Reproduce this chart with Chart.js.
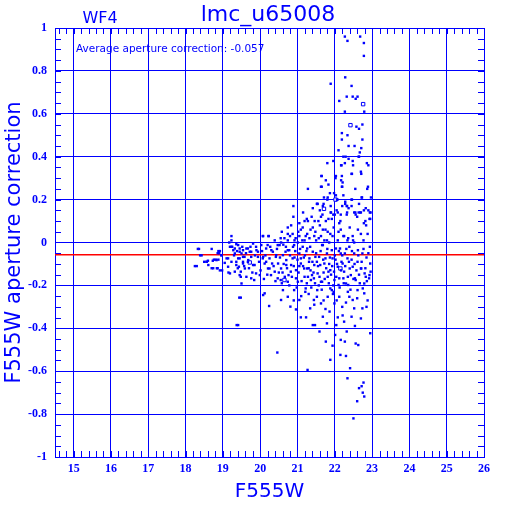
<!DOCTYPE html>
<html>
<head>
<meta charset="utf-8">
<script src="https://cdn.jsdelivr.net/npm/chart.js@4.4.1/dist/chart.umd.min.js"></script>
<style>
  html, body { margin: 0; padding: 0; background: #fff; }
  #wrap { width: 512px; height: 512px; }
</style>
</head>
<body>
<div id="wrap"><canvas id="grafica" width="512" height="512"></canvas></div>
<script>
// datos: [magnitud F555W, correccion de apertura]
const colaDebil = [
  [22.27,0.96],[22.34,0.94],[22.68,0.96],[22.78,0.93],[22.78,0.87],
  [22.28,0.77],[21.89,0.74],[22.45,0.73],[22.32,0.68],[22.48,0.68],[22.61,0.68],[22.56,0.67],
  [22.12,0.66],[22.27,0.61],[22.79,0.61],[22.58,0.54],[22.65,0.53],[22.74,0.55],[22.19,0.51],
  [22.19,0.48],[22.34,0.50],[22.74,0.48],[22.37,0.45],[22.10,0.43],[22.53,0.45],[22.71,0.44],
  [22.67,0.42],[22.64,0.40],[22.23,0.40],[22.29,0.40],[22.37,0.39],[21.96,0.38],[22.17,0.36],
  [22.65,0.40],[22.48,0.38],[21.80,0.37],[22.86,0.37],[22.90,0.36],[22.27,0.37],[22.18,0.36],[22.49,0.36]
];

const dispersionSuperior = [
  [21.64,0.31],[22.02,0.30],[21.76,0.29],[22.17,0.29],[22.21,0.28],[22.45,0.32],[22.70,0.33],
  [21.83,0.27],[21.28,0.25],[21.63,0.26],[22.19,0.26],[22.55,0.25],[22.87,0.25],[21.87,0.23],
  [21.71,0.21],[21.80,0.20],[22.06,0.20],[22.23,0.22],[22.72,0.21],[22.97,0.21],[22.28,0.19],
  [22.45,0.20],[21.54,0.18],[21.41,0.16],[22.32,0.17],[22.37,0.16],[22.64,0.14],[22.78,0.15],
  [22.94,0.14],[21.67,0.13],[21.89,0.14],[22.00,0.13],[22.32,0.13],[22.52,0.14],[22.60,0.12],
  [20.89,0.17],[20.89,0.12],[21.25,0.11],[21.83,0.11],[22.93,0.11],[21.65,0.31],[22.03,0.31],
  [22.19,0.31],[22.46,0.32],[22.71,0.32],[21.65,0.26],[22.20,0.26],[22.89,0.26],[21.81,0.21],
  [21.98,0.23],[22.03,0.22],[22.73,0.21],[21.53,0.18],[21.70,0.18],[21.89,0.17],[22.05,0.15],
  [22.20,0.17],[22.33,0.17],[22.45,0.17],[21.96,0.13],[22.16,0.13],[22.33,0.14],[22.55,0.14],
  [22.68,0.14],[22.90,0.15],[21.63,0.12],[21.28,0.10],[21.46,0.10],[21.76,0.10],[21.19,0.10],
  [22.82,0.10],[22.95,0.11],[21.52,0.18],[21.68,0.17],[22.07,0.20],[22.28,0.18],[22.46,0.20],
  [22.65,0.18],[22.83,0.16],[22.96,0.14],[21.90,0.14],[22.08,0.14],[22.56,0.13],[22.70,0.14],
  [21.56,0.10],[21.92,0.11],[22.15,0.10],[22.78,0.09],[20.83,0.08],[21.14,0.07],[21.41,0.07],
  [21.68,0.06],[21.81,0.05],[21.97,0.07],[22.16,0.06],[20.58,0.05],[20.74,0.04],[21.05,0.03],
  [21.26,0.04],[21.45,0.03],[21.63,0.03],[21.94,0.03],[22.25,0.03],[22.48,0.03],[22.70,0.04],
  [22.88,0.04],[20.08,0.03],[20.23,0.03],[20.39,0.01],[20.56,0.00],[20.74,0.01],[20.92,0.01],
  [21.01,0.00],[21.19,0.01],[21.32,0.02],[21.50,0.01],[21.72,0.01],[21.85,0.00],[22.08,0.01],
  [22.34,0.01],[22.52,0.00],[22.77,0.01],[20.65,0.02],[20.74,0.07],[20.87,0.04],[21.09,0.06],
  [21.13,0.01],[21.22,0.03],[21.48,0.05],[21.57,0.02],[21.75,0.06],[21.79,0.01],[22.10,0.05],
  [22.23,0.03],[22.36,0.02],[22.49,0.01],[19.23,0.01],[20.07,0.03],[20.22,0.03],[19.23,0.03],
  [19.17,0.00]
];

const bandaCentral = [
  [18.33,-0.03],[18.39,-0.06],[18.25,-0.11],[18.50,-0.09],[18.70,-0.03],[18.73,-0.085],
  [18.81,-0.08],[18.70,-0.12],[18.84,-0.12],[18.92,-0.13],[18.86,-0.05],[18.92,-0.04],
  [19.25,-0.02],[19.15,-0.14],[18.36,-0.03],[18.43,-0.06],[18.30,-0.11],[18.56,-0.09],
  [18.60,-0.085],[18.76,-0.08],[18.74,-0.12],[18.88,-0.08],[18.86,-0.12],[18.90,-0.05],
  [18.96,-0.06],[18.98,-0.13],[19.05,-0.095],[19.14,-0.074],[19.19,-0.144],[19.23,-0.02],
  [19.28,-0.036],[19.32,-0.051],[19.36,-0.09],[19.41,-0.074],[19.43,-0.113],[19.36,-0.008],
  [19.45,-0.028],[19.50,-0.051],[19.54,-0.067],[19.54,-0.098],[19.48,-0.136],[19.48,-0.16],
  [19.50,-0.191],[19.59,-0.121],[19.63,-0.028],[19.68,-0.082],[19.72,-0.043],[19.76,-0.067],
  [19.81,-0.005],[19.85,-0.105],[19.84,-0.175],[19.90,-0.036],[19.94,-0.067],[19.99,-0.152],
  [20.03,-0.012],[20.08,-0.067],[20.12,-0.098],[20.16,-0.028],[20.21,-0.121],[20.25,-0.074],
  [20.30,-0.036],[20.32,-0.098],[20.39,-0.136],[20.43,-0.059],[20.48,-0.098],[20.52,-0.012],
  [20.55,-0.175],[20.56,-0.121],[20.61,-0.059],[20.70,-0.082],[20.74,-0.036],[20.76,-0.152],
  [20.83,-0.105],[20.88,-0.02],[20.92,-0.07],[20.96,-0.129],[21.01,-0.183],[21.05,-0.051],
  [21.09,-0.098],[21.14,-0.02],[21.19,-0.16],[21.26,-0.121],[21.32,-0.074],[21.36,-0.175],
  [21.41,-0.043],[21.45,-0.105],[21.54,-0.144],[21.58,-0.067],[21.63,-0.183],[21.68,-0.012],
  [21.72,-0.098],[21.79,-0.051],[21.81,-0.16],[21.88,-0.129],[21.94,-0.074],[21.99,-0.175],
  [22.03,-0.028],[22.08,-0.113],[22.12,-0.167],[22.16,-0.051],[22.21,-0.098],[22.25,-0.136],
  [22.30,-0.191],[22.34,-0.074],[22.39,-0.02],[22.43,-0.152],[22.48,-0.113],[22.52,-0.051],
  [22.56,-0.175],[22.61,-0.09],[22.70,-0.121],[22.74,-0.051],[22.79,-0.191],[22.83,-0.16],
  [22.92,-0.167],[22.96,-0.136],[22.94,-0.02],
  [20.91,-0.012],[20.78,-0.036],[20.68,-0.043],[20.87,-0.074],[20.70,-0.105],[20.82,-0.136],
  [20.96,-0.167],[20.74,-0.183],[21.26,-0.028],[21.09,-0.074],[21.31,-0.09],[21.18,-0.121],
  [21.39,-0.152],[21.66,-0.012],[21.48,-0.067],[21.61,-0.105],[21.75,-0.074],[21.83,-0.136],
  [21.44,-0.167],[21.66,-0.183],[21.92,-0.036],[22.14,-0.028],[22.27,-0.051],[22.40,-0.121],
  [22.18,-0.09],[22.62,-0.036],[22.71,-0.121],[22.80,-0.144],[22.54,-0.167],[22.36,-0.198],
  [22.93,-0.152],[22.95,-0.098],[22.23,-0.167],[21.98,-0.136],[22.10,-0.198],
  [19.19,-0.02],[19.32,-0.028],[19.41,-0.012],[19.45,-0.043],[19.54,-0.036],[19.58,-0.067],
  [19.67,-0.028],[19.76,-0.043],[19.89,-0.02],[19.94,-0.043],[19.45,-0.074],[19.54,-0.09],
  [19.36,-0.105],[19.67,-0.09],[19.81,-0.105],[19.23,-0.09],[19.14,-0.113],[19.32,-0.136],
  [19.45,-0.152],[19.63,-0.16],[19.76,-0.167],[19.89,-0.144],[19.10,-0.074],[18.96,-0.059],
  [18.88,-0.04],[18.83,-0.082],[18.61,-0.105],[18.57,-0.09],[20.07,-0.074],[20.16,-0.09],
  [20.25,-0.121],[20.34,-0.043],[20.42,-0.067],[20.47,-0.012],[20.20,-0.012],[20.29,-0.152],
  [20.47,-0.167],[21.05,-0.11],[21.20,-0.06],[21.35,-0.13],[21.52,-0.09],[21.70,-0.14],
  [21.85,-0.10],[22.02,-0.08],[22.45,-0.08],[22.65,-0.15],[22.85,-0.07],[20.60,-0.14],
  [21.25,-0.19],[21.57,-0.20],[21.96,-0.20]
];

// segunda lectura de la zona mas densa (20.3 - 22.6)
const nucleoDenso = [
  [19.30,-0.06],[19.38,-0.04],[19.40,-0.12],[19.52,-0.02],[19.57,-0.11],[19.62,-0.05],
  [19.70,-0.12],[19.74,-0.02],[19.79,-0.14],[19.86,-0.06],[19.97,-0.09],[20.01,-0.13],
  [20.05,-0.04],[20.10,-0.17],[20.14,-0.06],[20.19,-0.15],[20.27,-0.02],[20.36,-0.11],
  [20.41,-0.18],[20.45,-0.03],[20.50,-0.14],[20.53,-0.07],[20.58,-0.19],[20.63,-0.10],
  [20.66,-0.16],[20.69,-0.02],[20.72,-0.12],[20.78,-0.20],[20.80,-0.06],[20.85,-0.16],
  [20.90,-0.11],[20.94,-0.04],[20.98,-0.21],[21.00,-0.08],[21.03,-0.14],[21.07,-0.03],
  [21.11,-0.18],[21.15,-0.11],[21.17,-0.07],[21.21,-0.23],[21.24,-0.04],[21.28,-0.16],
  [21.30,-0.12],[21.34,-0.02],[21.37,-0.21],[21.40,-0.09],[21.43,-0.14],[21.47,-0.19],
  [21.50,-0.05],[21.55,-0.11],[21.59,-0.16],[21.62,-0.04],[21.65,-0.22],[21.69,-0.08],
  [21.73,-0.17],[21.77,-0.12],[21.80,-0.03],[21.84,-0.19],[21.87,-0.07],[21.90,-0.15],
  [21.93,-0.11],[21.97,-0.23],[22.00,-0.06],[22.04,-0.16],[22.06,-0.10],[22.11,-0.04],
  [22.13,-0.21],[22.17,-0.13],[22.20,-0.06],[22.24,-0.19],[22.28,-0.11],[22.31,-0.03],
  [22.35,-0.16],[22.38,-0.09],[22.42,-0.22],[22.46,-0.04],[22.50,-0.17],[22.53,-0.10],
  [22.58,-0.13],[22.63,-0.06],[22.67,-0.19],[22.72,-0.09],[22.77,-0.03],[22.82,-0.12],
  [22.86,-0.18],[22.90,-0.05],[20.55,0.02],[20.80,0.03],[21.02,0.05],[21.35,0.06],
  [21.60,0.08],[21.88,0.04],[22.12,0.09],[22.40,0.07],[22.62,0.06],[22.84,0.08],
  [21.15,0.14],[21.38,0.12],[21.60,0.15],[21.05,0.09],[20.95,0.02],[20.62,-0.01]
];

const colaInferior = [
  [19.37,-0.385],[19.44,-0.257],[20.12,-0.237],[21.22,-0.214],[21.53,-0.222],[20.91,-0.222],
  [21.92,-0.222],[21.88,-0.214],[22.75,-0.214],[19.48,-0.257],[19.41,-0.385],[20.08,-0.245],
  [20.24,-0.296],[20.46,-0.513],[20.56,-0.268],[20.61,-0.222],[20.74,-0.253],[20.81,-0.299],
  [20.96,-0.312],[21.05,-0.268],[21.09,-0.349],[21.23,-0.349],[21.27,-0.594],[21.34,-0.307],
  [21.41,-0.385],[21.44,-0.268],[21.47,-0.385],[21.52,-0.253],[21.59,-0.415],[21.63,-0.284],
  [21.68,-0.346],[21.76,-0.462],[21.79,-0.377],[21.81,-0.253],[21.86,-0.322],[21.88,-0.547],
  [21.94,-0.481],[21.99,-0.284],[22.01,-0.431],[22.04,-0.385],[22.08,-0.349],[22.12,-0.253],
  [22.15,-0.524],[22.16,-0.454],[22.21,-0.34],[22.25,-0.369],[22.27,-0.462],[22.30,-0.529],
  [22.32,-0.415],[22.34,-0.633],[22.39,-0.253],[22.41,-0.586],[22.45,-0.346],[22.48,-0.268],
  [22.52,-0.307],[22.54,-0.389],[22.56,-0.471],[22.63,-0.478],[22.65,-0.679],[22.74,-0.307],
  [22.77,-0.653],[22.79,-0.718],[22.95,-0.423],[22.70,-0.354],[22.61,-0.222],[22.79,-0.237],
  [22.50,-0.82],[22.60,-0.74],[22.75,-0.70],[22.72,-0.67],[22.88,-0.27],[22.20,-0.30],
  [21.95,-0.24],[21.70,-0.27],[21.30,-0.24],[22.35,-0.23],[21.10,-0.25],[21.45,-0.29],
  [21.75,-0.31],[22.05,-0.27],[22.30,-0.28],[22.60,-0.26],[22.85,-0.30],[20.90,-0.27]
];

const marcasHuecas = [
  [22.76,0.645],[22.42,0.547],[21.71,0.157],[22.02,0.20],[19.72,-0.093],[20.65,-0.175],[22.15,-0.121]
];

const correccionMedia = -0.057;
const ticksX = [15, 16, 17, 18, 19, 20, 21, 22, 23, 24, 25, 26];
const ticksY = [-1, -0.8, -0.6, -0.4, -0.2, 0, 0.2, 0.4, 0.6, 0.8, 1];

const azul = '#0000ff';
const aPuntos = arr => arr.map(p => ({ x: p[0], y: p[1] }));

// marcas menores por dentro de los ejes + textos
const decoracion = {
  id: 'decoracion',
  afterDraw(c) {
    const ctx = c.ctx, a = c.chartArea;
    const sx = c.scales.x, sy = c.scales.y;
    ctx.save();
    ctx.strokeStyle = azul;
    ctx.lineWidth = 1;
    ctx.beginPath();
    for (let v = 14.6; v < 26; v += 0.2) {
      const px = Math.round(sx.getPixelForValue(v)) + 0.5;
      ctx.moveTo(px, a.bottom); ctx.lineTo(px, a.bottom - 6);
      ctx.moveTo(px, a.top); ctx.lineTo(px, a.top + 6);
    }
    for (let v = -0.95; v < 1; v += 0.05) {
      const py = Math.round(sy.getPixelForValue(v)) + 0.5;
      ctx.moveTo(a.left, py); ctx.lineTo(a.left + 6, py);
      ctx.moveTo(a.right, py); ctx.lineTo(a.right - 6, py);
    }
    ctx.stroke();

    ctx.fillStyle = azul;
    ctx.textBaseline = 'alphabetic';
    ctx.textAlign = 'center';
    ctx.font = '16px "DejaVu Sans"';
    ctx.fillText('WF4', 100, 23);
    ctx.font = '22px "DejaVu Sans"';
    ctx.fillText('lmc_u65008', 268, 21);
    ctx.textAlign = 'left';
    ctx.font = '10.5px "DejaVu Sans"';
    ctx.fillText('Average aperture correction: ' + correccionMedia.toFixed(3), 76, 52);
    ctx.restore();
  }
};

const ctx = document.getElementById('grafica').getContext('2d');
new Chart(ctx, {
  type: 'scatter',
  data: {
    datasets: [
      {
        data: aPuntos([...colaDebil, ...dispersionSuperior, ...bandaCentral, ...nucleoDenso, ...colaInferior]),
        pointStyle: 'rect',
        pointRadius: 1.7,
        pointBorderWidth: 0,
        backgroundColor: azul,
        borderColor: azul
      },
      {
        data: aPuntos(marcasHuecas),
        pointStyle: 'rect',
        pointRadius: 2.4,
        pointBorderWidth: 1,
        backgroundColor: '#ffffff',
        borderColor: azul
      },
      {
        type: 'line',
        data: [{ x: 14.5, y: correccionMedia }, { x: 26, y: correccionMedia }],
        borderColor: '#ff0000',
        borderWidth: 1.5,
        pointRadius: 0
      }
    ]
  },
  options: {
    responsive: false,
    animation: false,
    layout: { padding: { left: 0, right: 28, top: 28, bottom: 0 } },
    plugins: { legend: { display: false }, tooltip: { enabled: false } },
    scales: {
      x: {
        type: 'linear',
        min: 14.5,
        max: 26,
        afterBuildTicks: s => { s.ticks = ticksX.map(v => ({ value: v })); },
        afterFit: s => { s.height = 55; },
        grid: { color: azul, lineWidth: 1, drawTicks: false },
        border: { color: azul, width: 1 },
        ticks: {
          color: azul,
          padding: 5,
          maxRotation: 0,
          autoSkip: false,
          font: { family: '"Liberation Serif"', size: 12, weight: 'bold' },
          callback: v => String(v)
        },
        title: {
          display: true,
          text: 'F555W',
          color: azul,
          font: { family: '"DejaVu Sans"', size: 20 },
          padding: { top: 0, bottom: 8 }
        }
      },
      y: {
        type: 'linear',
        min: -1,
        max: 1,
        afterBuildTicks: s => { s.ticks = ticksY.map(v => ({ value: v })); },
        afterFit: s => { s.width = 55; },
        grid: { color: azul, lineWidth: 1, drawTicks: false },
        border: { color: azul, width: 1 },
        ticks: {
          color: azul,
          padding: 8,
          autoSkip: false,
          font: { family: '"Liberation Serif"', size: 12, weight: 'bold' },
          callback: v => (Math.abs(v) < 1e-9 ? '0' : String(Math.round(v * 10) / 10))
        },
        title: {
          display: true,
          text: 'F555W aperture correction',
          color: azul,
          font: { family: '"DejaVu Sans"', size: 21 },
          padding: { top: 2, bottom: 0 }
        }
      }
    }
  },
  plugins: [decoracion]
});
</script>
</body>
</html>
